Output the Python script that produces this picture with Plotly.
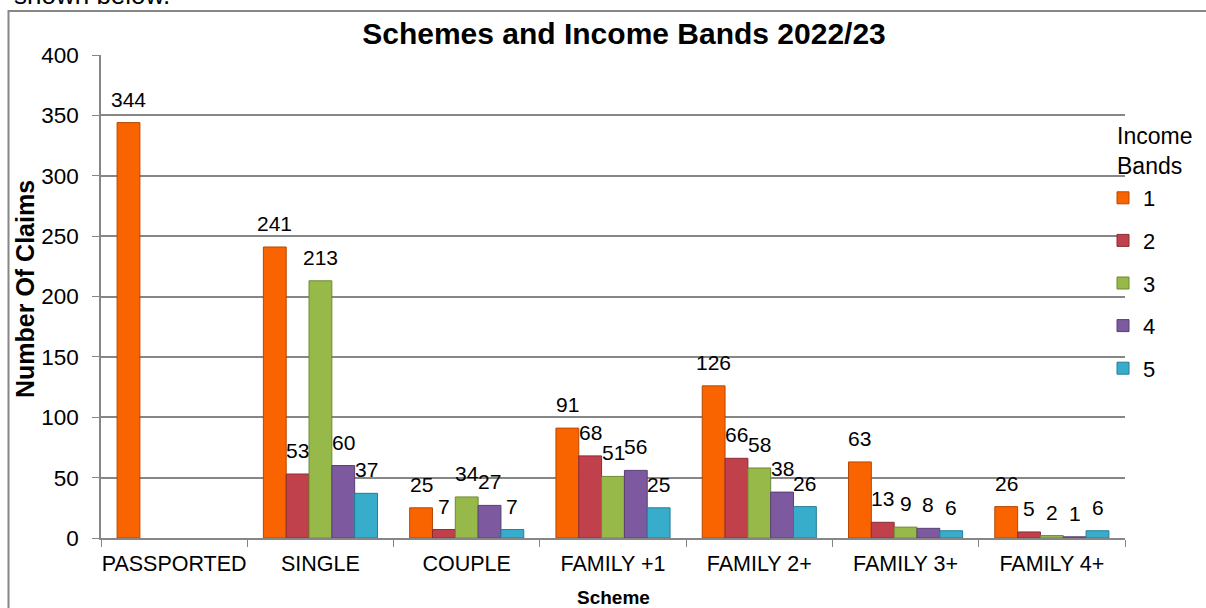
import plotly.graph_objects as go

categories = ["PASSPORTED", "SINGLE", "COUPLE", "FAMILY +1", "FAMILY 2+", "FAMILY 3+", "FAMILY 4+"]
band_names = ["1", "2", "3", "4", "5"]
band1 = [344, 241, 25, 91, 126, 63, 26]
band2 = [None, 53, 7, 68, 66, 13, 5]
band3 = [None, 213, 34, 51, 58, 9, 2]
band4 = [None, 60, 27, 56, 38, 8, 1]
band5 = [None, 37, 7, 25, 26, 6, 6]
y_ticks = [0, 50, 100, 150, 200, 250, 300, 350, 400]

series = [band1, band2, band3, band4, band5]
colors = ["#F96300", "#C0414B", "#97B94A", "#7D5AA0", "#38ADCB"]
edges = ["#B84800", "#8C2C33", "#6D8934", "#583F73", "#237E96"]

FONT = "Arial, Liberation Sans, sans-serif"
W, H = 1206, 608
ML, MR, MT, MB = 101, 81, 55, 70
PW = W - ML - MR
PH = H - MT - MB
BARGAP = 0.22

fig = go.Figure()
for i, (name, vals) in enumerate(zip(band_names, series)):
    fig.add_trace(go.Bar(
        x=categories, y=vals, name=name,
        marker=dict(color=colors[i], line=dict(color=edges[i], width=1)),
        legendgroup="g" + name,
    ))

# data labels, positioned through the axes
group_px = PW / len(categories)
bar_px = group_px * (1 - BARGAP) / len(series)
annotations = []
for i, vals in enumerate(series):
    for c, v in zip(categories, vals):
        if v is None:
            continue
        annotations.append(dict(
            x=c, y=v, xref="x", yref="y", text=str(v), showarrow=False,
            xanchor="center", yanchor="bottom",
            xshift=(i - (len(series) - 1) / 2) * bar_px, yshift=10,
            font=dict(family=FONT, size=21, color="black"),
        ))

def py(p):
    return (H - MB - p) / PH

def px(p):
    return (p - ML) / PW

annotations += [
    dict(text="Number Of Claims", textangle=-90, xref="paper", yref="paper",
         x=px(25), y=py(289), xanchor="center", yanchor="middle", showarrow=False,
         font=dict(family=FONT, size=25, color="black", weight="bold")),
    dict(text="Scheme", xref="paper", yref="paper", x=0.5, y=py(597),
         xanchor="center", yanchor="middle", showarrow=False,
         font=dict(family=FONT, size=19, color="black", weight="bold")),
    dict(text="Income<br>Bands", xref="paper", yref="paper", x=px(1115), y=py(181),
         xanchor="left", yanchor="bottom", align="left", showarrow=False,
         font=dict(family=FONT, size=23, color="black")),
    dict(text="shown below.", xref="paper", yref="paper", x=px(12), y=py(-5),
         xanchor="left", yanchor="middle", showarrow=False,
         font=dict(family=FONT, size=26, color="black")),
]

fig.update_layout(
    width=W, height=H,
    margin=dict(l=ML, r=MR, t=MT, b=MB, autoexpand=False),
    paper_bgcolor="white", plot_bgcolor="white",
    barmode="group", bargap=BARGAP, bargroupgap=0,
    font=dict(family=FONT, color="black"),
    title=dict(text="<b>Schemes and Income Bands 2022/23</b>",
               x=px(624), xanchor="center", xref="paper",
               y=1 - 33 / H, yanchor="middle", yref="container",
               font=dict(family=FONT, size=30, color="black")),
    legend=dict(x=px(1103), xanchor="left", y=py(177), yanchor="top",
                font=dict(family=FONT, size=22, color="black"),
                bgcolor="rgba(0,0,0,0)", tracegroupgap=11, itemclick=False),
    annotations=annotations,
    shapes=[dict(type="rect", xref="paper", yref="paper",
                 x0=px(8.5), x1=px(1230), y0=py(640), y1=py(11),
                 line=dict(color="#868686", width=2), fillcolor="rgba(0,0,0,0)",
                 layer="below")],
)
fig.update_xaxes(
    showline=True, linecolor="#868686", linewidth=1.5, tickangle=0,
    ticks="outside", tickson="boundaries", ticklen=7, tickcolor="#868686",
    ticklabelstandoff=5,
    tickfont=dict(family=FONT, size=21.5, color="black"), automargin=False,
)
fig.update_yaxes(
    range=[0, 400], tickvals=y_ticks, showline=True, linecolor="#868686", linewidth=1.5,
    showgrid=True, gridcolor="#868686", gridwidth=1.5, zeroline=False,
    ticks="outside", ticklen=7, tickcolor="#868686", ticklabelstandoff=9,
    tickfont=dict(family=FONT, size=22.5, color="black"), automargin=False,
)
fig.write_html("out.html", config={"displayModeBar": False},
               post_script="document.body.style.margin='0';document.body.style.overflow='hidden';")
